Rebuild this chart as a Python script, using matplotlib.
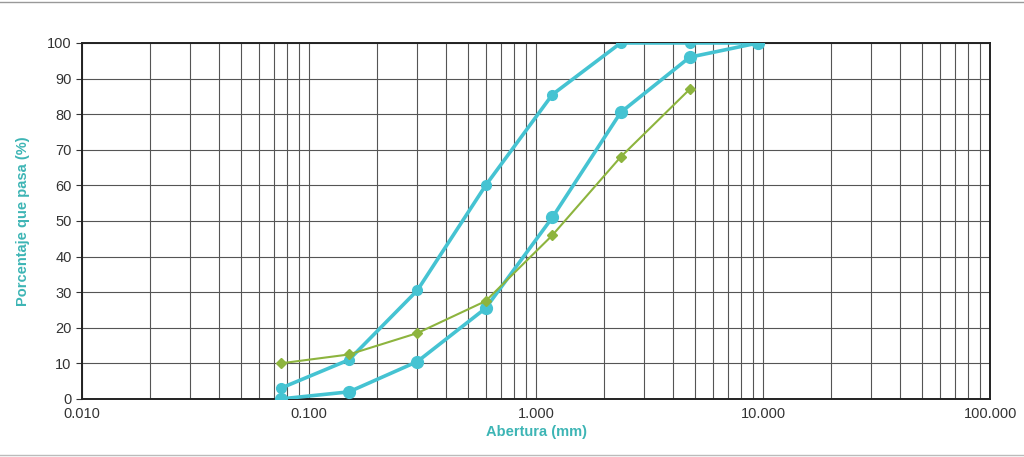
# Curva granulometrica: agregado fino con limites superior e inferior

import numpy as np
import matplotlib.pyplot as plt
from matplotlib.ticker import FixedLocator, LogLocator, NullFormatter

plt.rcParams['font.family'] = ['Liberation Sans', 'DejaVu Sans']

# aberturas de tamiz (mm)
tamices = [0.075, 0.15, 0.3, 0.6, 1.18, 2.36, 4.75, 9.5]
limite_sup = [3, 11, 30.5, 60, 85.5, 100, 100, 100]
limite_inf = [0, 2, 10.5, 25.5, 51, 80.5, 96, 100]

tamices_muestra = [0.075, 0.15, 0.3, 0.6, 1.18, 2.36, 4.75]
muestra = [10, 12.5, 18.5, 27.5, 46, 68, 87]

xticks = [0.01, 0.1, 1, 10, 100]
xtick_labels = ['0.010', '0.100', '1.000', '10.000', '100.000']
yticks = list(range(0, 101, 10))

cyan = '#45c3d2'
verde = '#8db43e'
texto = '#3db5b5'

fig = plt.figure(figsize=(10.24, 4.57), dpi=100)
ax = fig.add_axes([0.080, 0.127, 0.887, 0.779])

ax.plot(tamices, limite_sup, color=cyan, lw=2.6, marker='o', ms=7, zorder=3)
ax.plot(tamices, limite_inf, color=cyan, lw=2.6, marker='o', ms=8.5, zorder=3)
ax.plot(tamices_muestra, muestra, color=verde, lw=1.5, marker='D', ms=5, zorder=4)

ax.set_xscale('log')
ax.set_xlim(0.01, 100)
ax.set_ylim(0, 100)
ax.xaxis.set_major_locator(FixedLocator(xticks))
ax.set_xticklabels(xtick_labels)
ax.xaxis.set_minor_locator(LogLocator(base=10, subs=np.arange(2, 10)))
ax.xaxis.set_minor_formatter(NullFormatter())
ax.set_yticks(yticks)

ax.grid(which='major', axis='both', color='#555555', lw=0.8)
ax.grid(which='minor', axis='x', color='#555555', lw=0.8)
ax.set_axisbelow(True)

for s in ax.spines.values():
    s.set_color('#222222')
    s.set_linewidth(1.4)

ax.tick_params(axis='x', which='both', length=0, pad=6, labelsize=10.5, colors='#333333')
ax.tick_params(axis='y', length=4, width=0.8, labelsize=10.5, colors='#333333')

ax.set_xlabel('Abertura (mm)', color=texto, fontsize=10.5, fontweight='bold', labelpad=3)
ax.set_ylabel('Porcentaje que pasa (%)', color=texto, fontsize=10.5, fontweight='bold', labelpad=12)

# bordes finos arriba y abajo de la hoja
fig.add_artist(plt.Line2D([0, 1], [0.996, 0.996], color='#999999', lw=1))
fig.add_artist(plt.Line2D([0, 1], [0.005, 0.005], color='#bbbbbb', lw=1))

plt.savefig('out.png', dpi=100)
